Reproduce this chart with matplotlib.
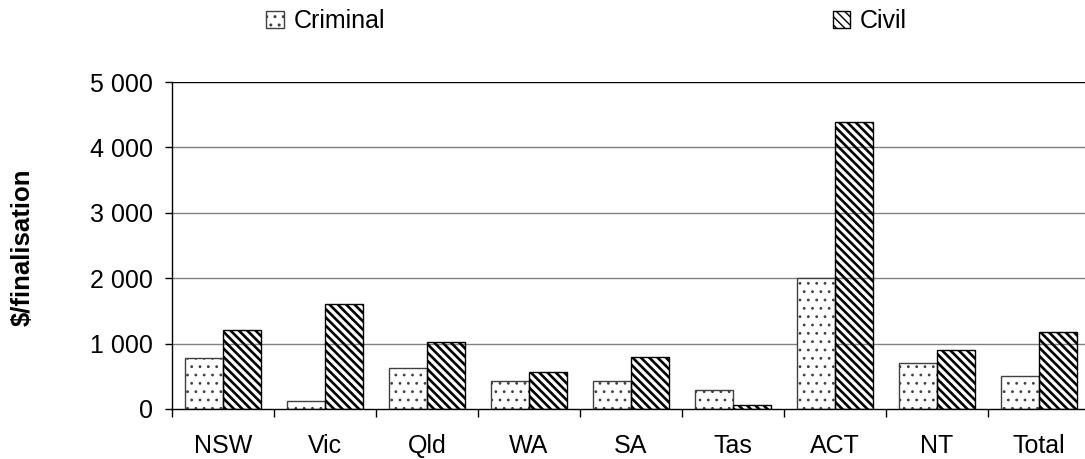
import numpy as np
import matplotlib
matplotlib.use('Agg')
import matplotlib.pyplot as plt

plt.rcParams['font.family'] = ['Liberation Sans', 'DejaVu Sans']

#%% data ($ per finalisation)
jurisdictions = ['NSW', 'Vic', 'Qld', 'WA', 'SA', 'Tas', 'ACT', 'NT', 'Total']
criminal = [775, 118, 622, 424, 428, 286, 1998, 708, 500]
civil = [1205, 1605, 1020, 561, 795, 55, 4393, 897, 1185]
yticks = [0, 1000, 2000, 3000, 4000, 5000]
ytick_labels = ['0', '1 000', '2 000', '3 000', '4 000', '5 000']

#%% plot
fig = plt.figure(figsize=(10.85, 4.59), dpi=100)
ax = fig.add_axes([172/1085, 1 - 409/459, 918/1085, 327/459])

x = np.arange(len(jurisdictions))
w = 0.37
# thin hatch for the dots, thick one for the stripes
with plt.rc_context({'hatch.linewidth': 0.8}):
    b1 = ax.bar(x - w/2, criminal, w, facecolor='white', edgecolor='#404040',
                hatch='..', linewidth=1.0, label='Criminal', zorder=2)
with plt.rc_context({'hatch.linewidth': 1.9}):
    b2 = ax.bar(x + w/2, civil, w, facecolor='none', edgecolor='black',
                hatch='\\\\\\\\', linewidth=1.0, label='Civil', zorder=2)

for yv in yticks[1:]:
    ax.axhline(yv, color='black' if yv == 5000 else '#808080', lw=1.0, zorder=1)

ax.set_xlim(-0.5, len(jurisdictions) - 0.5)
ax.set_ylim(0, 5000)
ax.set_yticks(yticks)
ax.set_yticklabels(ytick_labels, fontsize=18)
ax.set_xticks(x)
ax.set_xticklabels(jurisdictions, fontsize=18)
ax.set_xticks(np.arange(len(jurisdictions) + 1) - 0.5, minor=True)
ax.tick_params(axis='x', which='major', length=0, pad=18)
ax.tick_params(axis='x', which='minor', length=6, width=1, direction='out')
ax.tick_params(axis='y', length=5, width=1, pad=9)

for s in ['top', 'right']:
    ax.spines[s].set_visible(False)
for s in ['left', 'bottom']:
    ax.spines[s].set_linewidth(1.0)

fig.text(23/1085, 1 - 247/459, '$/finalisation', rotation=90, fontsize=18.5,
         fontweight='bold', ha='center', va='center')

fig.legend(handles=[b1, b2], loc='center left', bbox_to_anchor=(266/1085, 1 - 21/459),
           ncol=2, frameon=False, fontsize=18, handlelength=0.7, handleheight=0.7,
           handletextpad=0.4, columnspacing=17.9, borderaxespad=0, borderpad=0)

fig.savefig('out.png', dpi=100)
